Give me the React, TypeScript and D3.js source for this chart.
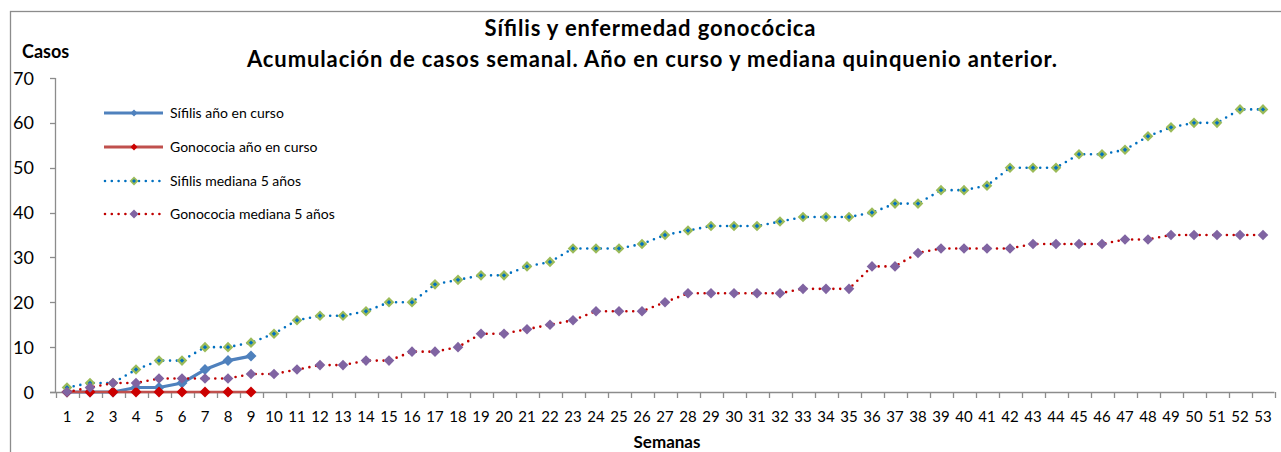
import React, { useEffect, useRef } from "react";
import * as d3 from "d3";

// semanas epidemiológicas
const weeks: string[] = d3.range(1, 54).map((d) => String(d));
const yTicks: number[] = [0, 10, 20, 30, 40, 50, 60, 70];

// casos acumulados (año en curso solo hasta semana 9)
const sifilisActual: number[] = [0, 0, 0, 1, 1, 2, 5, 7, 8];
const gonocociaActual: number[] = [0, 0, 0, 0, 0, 0, 0, 0, 0];

const sifilisMediana: number[] = [
  1, 2, 2, 5, 7, 7, 10, 10, 11, 13, 16, 17, 17, 18, 20, 20, 24, 25, 26, 26, 28,
  29, 32, 32, 32, 33, 35, 36, 37, 37, 37, 38, 39, 39, 39, 40, 42, 42, 45, 45,
  46, 50, 50, 50, 53, 53, 54, 57, 59, 60, 60, 63, 63,
];
const gonocociaMediana: number[] = [
  0, 1, 2, 2, 3, 3, 3, 3, 4, 4, 5, 6, 6, 7, 7, 9, 9, 10, 13, 13, 14, 15, 16,
  18, 18, 18, 20, 22, 22, 22, 22, 22, 23, 23, 23, 28, 28, 31, 32, 32, 32, 32,
  33, 33, 33, 33, 34, 34, 35, 35, 35, 35, 35,
];

const seriesNames = [
  "Sífilis año en curso",
  "Gonococia año en curso",
  "Sifilis mediana 5 años",
  "Gonococia mediana 5 años",
];

const FONT = "Lato, 'Open Sans', sans-serif";

export default function App() {
  const svgRef = useRef<SVGSVGElement>(null);

  useEffect(() => {
    const svg = d3.select(svgRef.current);
    svg.selectChildren().remove();

    const x = d3.scaleBand<string>().domain(weeks).range([55.5, 1274.5]);
    const y = d3.scaleLinear().domain([0, 70]).range([392, 78]);
    const cx = (i: number) => (x(weeks[i]) as number) + x.bandwidth() / 2;

    // marco del gráfico
    svg
      .append("rect")
      .attr("x", 10.5)
      .attr("y", 11.5)
      .attr("width", 1400)
      .attr("height", 600)
      .attr("fill", "none")
      .attr("stroke", "#8c8c8c")
      .attr("stroke-width", 1.3);

    // eje Y
    const yAxis = svg.append("g");
    yAxis
      .append("line")
      .attr("x1", 55.5)
      .attr("x2", 55.5)
      .attr("y1", y(70))
      .attr("y2", y(0))
      .attr("stroke", "#8c8c8c")
      .attr("stroke-width", 1.3);
    yAxis
      .selectAll("line.tick")
      .data(yTicks)
      .enter()
      .append("line")
      .attr("class", "tick")
      .attr("x1", 50)
      .attr("x2", 55.5)
      .attr("y1", (d) => Math.round(y(d)) + 0.5)
      .attr("y2", (d) => Math.round(y(d)) + 0.5)
      .attr("stroke", "#8c8c8c")
      .attr("stroke-width", 1.3);
    yAxis
      .selectAll("text")
      .data(yTicks)
      .enter()
      .append("text")
      .attr("x", 34)
      .attr("y", (d) => y(d) + 6.5)
      .attr("text-anchor", "end")
      .attr("font-family", FONT)
      .attr("font-size", 18)
      .text((d) => d);

    // eje X
    const xAxis = svg.append("g");
    xAxis
      .append("line")
      .attr("x1", 50)
      .attr("x2", 1274.5)
      .attr("y1", y(0) + 0.5)
      .attr("y2", y(0) + 0.5)
      .attr("stroke", "#8c8c8c")
      .attr("stroke-width", 1.3);
    const edges = weeks.map((w) => x(w) as number).concat([x.range()[1]]);
    xAxis
      .selectAll("line.tick")
      .data(edges)
      .enter()
      .append("line")
      .attr("class", "tick")
      .attr("x1", (d) => Math.round(d) + 0.5)
      .attr("x2", (d) => Math.round(d) + 0.5)
      .attr("y1", y(0))
      .attr("y2", y(0) + 6)
      .attr("stroke", "#8c8c8c")
      .attr("stroke-width", 1.3);
    xAxis
      .selectAll("text")
      .data(weeks)
      .enter()
      .append("text")
      .attr("x", (d, i) => cx(i))
      .attr("y", 422)
      .attr("text-anchor", "middle")
      .attr("font-family", FONT)
      .attr("font-size", 15)
      .text((d) => d);

    const line = d3
      .line<number>()
      .x((d, i) => cx(i))
      .y((d) => y(d));

    const diamond = (size: number) =>
      `M0,${-size}L${size},0L0,${size}L${-size},0Z`;

    // series del año en curso: línea continua
    const drawSolid = (
      data: number[],
      stroke: string,
      width: number,
      marker: string
    ) => {
      const g = svg.append("g");
      g.append("path")
        .datum(data)
        .attr("fill", "none")
        .attr("stroke", stroke)
        .attr("stroke-width", width)
        .attr("stroke-linejoin", "round")
        .attr("d", line);
      g.selectAll("path.m")
        .data(data)
        .enter()
        .append("path")
        .attr("class", "m")
        .attr("transform", (d, i) => `translate(${cx(i)},${y(d)})`)
        .attr("d", diamond(5.5))
        .attr("fill", marker);
    };

    // medianas: línea punteada
    const drawDotted = (
      data: number[],
      stroke: string,
      marker: string,
      inner: string | null
    ) => {
      const g = svg.append("g");
      g.append("path")
        .datum(data)
        .attr("fill", "none")
        .attr("stroke", stroke)
        .attr("stroke-width", 2.6)
        .attr("stroke-linecap", "round")
        .attr("stroke-dasharray", "0 6.8")
        .attr("d", line);
      const m = g
        .selectAll("g.m")
        .data(data)
        .enter()
        .append("g")
        .attr("class", "m")
        .attr("transform", (d, i) => `translate(${cx(i)},${y(d)})`);
      m.append("path").attr("d", diamond(5.3)).attr("fill", marker);
      if (inner) m.append("path").attr("d", diamond(2.2)).attr("fill", inner);
    };

    drawSolid(sifilisActual, "#4f81bd", 3.2, "#4f81bd");
    drawSolid(gonocociaActual, "#c0504d", 2.6, "#cc0000");
    drawDotted(sifilisMediana, "#0070c0", "#9bbb59", "#0070c0");
    drawDotted(gonocociaMediana, "#c00000", "#8064a2", null);

    // leyenda
    const legend = svg.append("g");
    const legendY = [113, 147, 181, 214];
    const legendStyle = [
      { stroke: "#4f81bd", dash: null, marker: "#4f81bd", inner: null },
      { stroke: "#c0504d", dash: null, marker: "#cc0000", inner: null },
      { stroke: "#0070c0", dash: "0 6.8", marker: "#9bbb59", inner: "#0070c0" },
      { stroke: "#c00000", dash: "0 6.8", marker: "#8064a2", inner: null },
    ];
    seriesNames.forEach((name, i) => {
      const s = legendStyle[i];
      const ly = legendY[i];
      legend
        .append("line")
        .attr("x1", s.dash ? 105 : 104)
        .attr("x2", 163)
        .attr("y1", ly)
        .attr("y2", ly)
        .attr("stroke", s.stroke)
        .attr("stroke-width", s.dash ? 2.6 : 3.2)
        .attr("stroke-linecap", s.dash ? "round" : "butt")
        .attr("stroke-dasharray", s.dash);
      const mk = legend.append("g").attr("transform", `translate(134,${ly})`);
      mk.append("path")
        .attr("d", s.dash ? diamond(4.5) : diamond(3.5))
        .attr("fill", s.marker);
      if (s.inner)
        mk.append("path").attr("d", diamond(2)).attr("fill", s.inner);
      legend
        .append("text")
        .attr("x", 170)
        .attr("y", ly + 5)
        .attr("font-family", FONT)
        .attr("font-size", 14)
        .text(name);
    });

    // títulos
    svg
      .append("text")
      .attr("x", 650)
      .attr("y", 36)
      .attr("text-anchor", "middle")
      .attr("font-family", FONT)
      .attr("font-weight", "bold")
      .attr("font-size", 22)
      .attr("textLength", 331)
      .attr("lengthAdjust", "spacing")
      .text("Sífilis y enfermedad gonocócica");
    svg
      .append("text")
      .attr("x", 652)
      .attr("y", 67)
      .attr("text-anchor", "middle")
      .attr("font-family", FONT)
      .attr("font-weight", "bold")
      .attr("font-size", 22)
      .attr("textLength", 810)
      .attr("lengthAdjust", "spacing")
      .text(
        "Acumulación de casos semanal. Año en curso y mediana quinquenio anterior."
      );
    svg
      .append("text")
      .attr("x", 22)
      .attr("y", 58)
      .attr("font-family", FONT)
      .attr("font-weight", "bold")
      .attr("font-size", 18)
      .text("Casos");
    svg
      .append("text")
      .attr("x", 667)
      .attr("y", 448)
      .attr("text-anchor", "middle")
      .attr("font-family", FONT)
      .attr("font-weight", "bold")
      .attr("font-size", 17)
      .text("Semanas");
  }, []);

  return (
    <svg
      ref={svgRef}
      width={1281}
      height={452}
      style={{ position: "absolute", left: 0, top: 0, background: "#fff" }}
    />
  );
}
